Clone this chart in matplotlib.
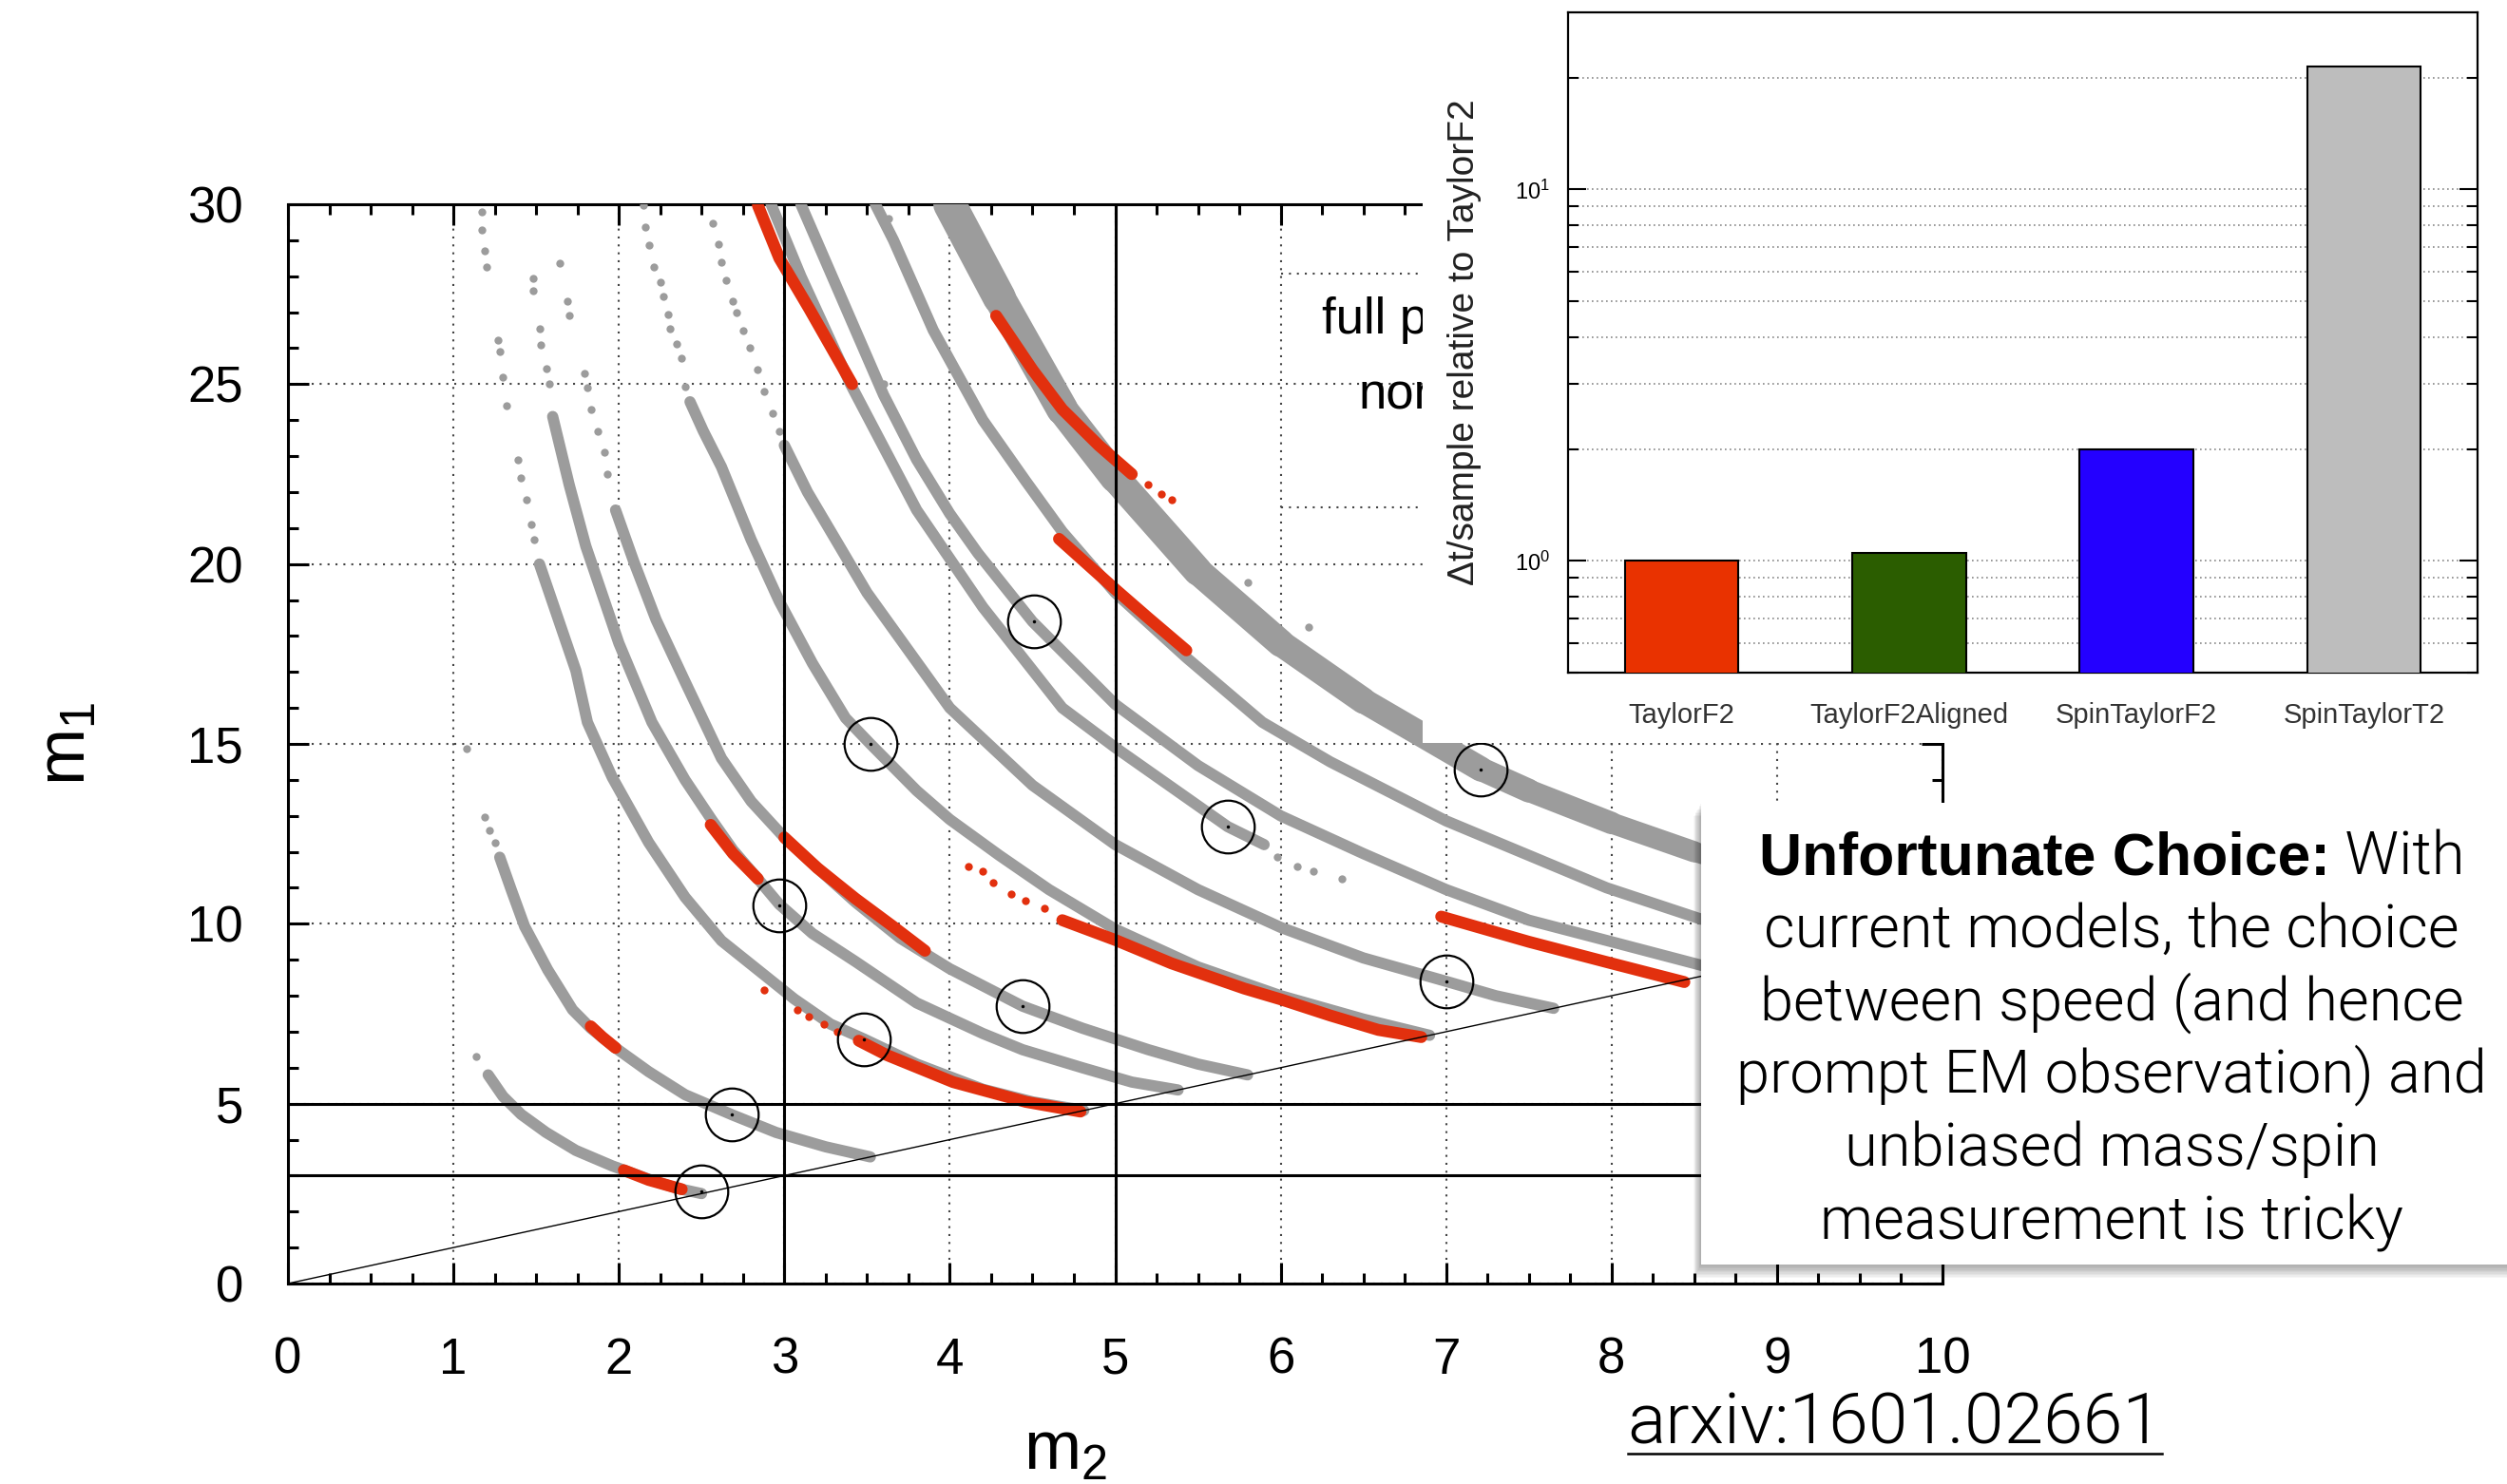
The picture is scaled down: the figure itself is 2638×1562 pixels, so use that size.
import numpy as np
import matplotlib
matplotlib.use('Agg')
import matplotlib.pyplot as plt
from matplotlib.patches import Rectangle
from matplotlib.lines import Line2D
from matplotlib.collections import LineCollection
from matplotlib.ticker import MultipleLocator, FixedLocator, NullFormatter, LogFormatterSciNotation

plt.rcParams['font.family'] = ['Liberation Sans', 'DejaVu Sans']

W, H = 2638, 1562

GRAY = '#9c9c9c'
RED = '#e2300e'

# injected systems (circles): m2, m1
inj_m2 = [2.50, 2.68, 2.97, 3.48, 3.52, 4.44, 4.51, 5.68, 7.00, 7.21]
inj_m1 = [2.55, 4.70, 10.5, 6.80, 15.0, 7.70, 18.4, 12.7, 8.40, 14.3]

# gray posterior bands (full precessing), (m2, m1)
band_a = [(1.21, 5.8), (1.30, 5.2), (1.41, 4.7), (1.56, 4.2), (1.74, 3.7), (1.96, 3.27),
          (2.18, 2.9), (2.35, 2.65), (2.50, 2.50)]
band_b = [(1.28, 11.85), (1.35, 10.94), (1.43, 9.93), (1.57, 8.72), (1.72, 7.61), (1.83, 7.1),
          (1.98, 6.55), (2.18, 5.89), (2.40, 5.25), (2.69, 4.68), (2.95, 4.2), (3.25, 3.8), (3.52, 3.52)]
band_h = [(1.52, 20.0), (1.65, 18.25), (1.74, 17.04), (1.81, 15.6), (1.96, 14.07), (2.18, 12.26),
          (2.40, 10.74), (2.62, 9.53), (2.84, 8.72), (3.06, 7.91), (3.28, 7.21), (3.48, 6.8),
          (3.8, 6.1), (4.2, 5.4), (4.5, 5.05), (4.81, 4.81)]
band_c = [(1.60, 24.1), (1.70, 22.2), (1.80, 20.5), (2.0, 17.8), (2.2, 15.6), (2.40, 14.0),
          (2.56, 12.9), (2.69, 12.05), (2.84, 11.25), (2.97, 10.54), (3.17, 9.73), (3.43, 8.95),
          (3.8, 7.8), (4.2, 6.95), (4.44, 6.5), (4.8, 6.0), (5.1, 5.6), (5.38, 5.38)]
band_d = [(1.98, 21.5), (2.09, 20.07), (2.225, 18.45), (2.40, 16.73), (2.62, 14.6), (2.8, 13.4),
          (3.0, 12.4), (3.2, 11.55), (3.43, 10.6), (3.7, 9.6), (4.0, 8.75), (4.44, 7.71),
          (4.8, 7.1), (5.2, 6.5), (5.5, 6.1), (5.8, 5.8)]
band_e = [(2.43, 24.51), (2.51, 23.7), (2.62, 22.7), (2.80, 20.67), (2.97, 18.96), (3.17, 17.24),
          (3.37, 15.72), (3.52, 15.0), (3.8, 13.7), (4.0, 12.9), (4.3, 11.9), (4.6, 10.95),
          (5.0, 9.85), (5.5, 8.8), (6.0, 8.0), (6.5, 7.35), (6.9, 6.9)]
band_f = [(3.0, 23.3), (3.14, 22.0), (3.5, 19.2), (4.0, 16.0), (4.5, 13.85), (5.0, 12.2),
          (5.5, 10.95), (6.0, 9.9), (6.5, 9.05), (7.0, 8.4), (7.3, 8.0), (7.65, 7.65)]
band_g = [(3.1, 30.0), (3.43, 26.5), (3.6, 24.7), (3.8, 22.9), (4.0, 21.4), (4.17, 20.3),
          (4.5, 18.4), (5.0, 16.1), (5.5, 14.4), (6.0, 13.0), (6.5, 11.95), (7.0, 10.95),
          (7.5, 10.1), (8.0, 9.5), (8.68, 8.68)]
band_k = [(2.92, 30.0), (3.1, 28.0), (3.4, 25.0), (3.8, 21.5), (4.2, 18.8), (4.68, 16.0),
          (5.0, 14.9), (5.68, 12.7), (5.9, 12.2)]
band_m = [(3.55, 30.0), (3.66, 29.0), (3.9, 26.5), (4.2, 24.0), (4.46, 22.3), (4.68, 20.9),
          (5.0, 19.2), (5.43, 17.4), (5.89, 15.6), (6.3, 14.5), (7.0, 12.86), (7.97, 11.0),
          (8.54, 10.13), (9.0, 9.7), (9.36, 9.36)]
band_wide = [(4.0, 30.0), (4.3, 27.4), (4.68, 24.3), (5.0, 22.4), (5.5, 19.8), (6.0, 17.8),
             (6.5, 16.2), (7.21, 14.3), (7.5, 13.7), (8.0, 12.8), (8.5, 12.0), (9.0, 11.3), (10.0, 10.1)]

# sparse gray samples
dots_gray = [(1.14, 6.3), (1.19, 12.96), (1.22, 12.6), (1.25, 12.26),
             (1.17, 29.8), (1.17, 29.3), (1.19, 28.7), (1.20, 28.25), (1.27, 26.23), (1.28, 25.9),
             (1.30, 25.2), (1.32, 24.41), (1.39, 22.9), (1.41, 22.4), (1.44, 21.8), (1.47, 21.1), (1.49, 20.67),
             (1.48, 27.95), (1.48, 27.6), (1.52, 26.53), (1.53, 26.1), (1.565, 25.42), (1.58, 25.0),
             (1.64, 28.35), (1.69, 27.3), (1.70, 26.9), (1.79, 25.3), (1.81, 24.9), (1.83, 24.3),
             (1.87, 23.7), (1.91, 23.1), (1.93, 22.5),
             (2.148, 29.97), (2.16, 29.36), (2.18, 28.86), (2.21, 28.25), (2.25, 27.84), (2.27, 27.44),
             (2.30, 26.94), (2.31, 26.53), (2.35, 26.13), (2.38, 25.72), (2.40, 24.92),
             (2.565, 29.46), (2.60, 28.9), (2.62, 28.4), (2.65, 27.9), (2.69, 27.3), (2.71, 27.0),
             (2.75, 26.5), (2.79, 26.0), (2.84, 25.4), (2.88, 24.8), (2.93, 24.2), (2.97, 23.7),
             (5.98, 11.85), (6.1, 11.6), (6.2, 11.45), (6.37, 11.25),
             (1.08, 14.88), (3.33, 27.5), (3.48, 25.9), (3.54, 25.4), (3.60, 25.0), (3.63, 29.6),
             (5.80, 19.5), (6.17, 18.25)]

# red posterior segments (non-precessing)
red_a = [(2.03, 3.15), (2.18, 2.88), (2.38, 2.62)]
red_b = [(1.83, 7.15), (1.90, 6.85), (1.98, 6.55)]
red_c = [(2.555, 12.75), (2.69, 11.95), (2.84, 11.25)]
red_h = [(3.45, 6.75), (3.62, 6.35), (4.02, 5.6), (4.46, 5.05), (4.79, 4.78)]
red_d = [(3.0, 12.4), (3.2, 11.55), (3.43, 10.7), (3.65, 9.95), (3.85, 9.25)]
red_e = [(4.68, 10.1), (5.0, 9.55), (5.34, 8.9), (5.78, 8.2), (6.0, 7.9), (6.3, 7.45),
         (6.59, 7.05), (6.85, 6.85)]
red_k = [(6.97, 10.2), (7.5, 9.5), (8.0, 8.9), (8.44, 8.38)]
red_g = [(2.84, 29.97), (2.97, 28.5), (3.15, 27.1), (3.41, 25.0)]
red_w = [(4.28, 26.9), (4.5, 25.4), (4.68, 24.3), (4.9, 23.3), (5.1, 22.5)]
red_m = [(4.66, 20.7), (5.0, 19.3), (5.2, 18.5), (5.43, 17.6)]
dots_red = [(2.88, 8.17), (3.08, 7.61), (3.15, 7.41), (3.24, 7.21), (3.32, 7.0),
            (4.11, 11.6), (4.2, 11.45), (4.26, 11.15), (4.37, 10.84), (4.46, 10.64), (4.57, 10.44),
            (5.2, 22.2), (5.28, 21.95), (5.34, 21.8)]

# inset bar chart
models = ['TaylorF2', 'TaylorF2Aligned', 'SpinTaylorF2', 'SpinTaylorT2']
cost = [1.0, 1.05, 2.0, 21.5]
bar_colors = ['#e93200', '#2b5d00', '#2400ff', '#bdbdbd']

note_bold = 'Unfortunate Choice:'
note_lines = [' With', 'current models, the choice', 'between speed (and hence',
              'prompt EM observation) and', 'unbiased mass/spin', 'measurement is tricky']
ref_text = 'arxiv:1601.02661'


fig = plt.figure(figsize=(W / 100, H / 100), dpi=100)

ax = fig.add_axes([303 / W, 1 - 1351 / H, 1741 / W, 1136 / H], zorder=1)


def draw_band(pts, color, lw):
    x, y = zip(*pts)
    ax.plot(x, y, color=color, lw=lw, solid_capstyle='round', solid_joinstyle='round', zorder=3)


for pts in [band_a, band_b, band_h, band_c, band_d, band_e, band_f, band_g, band_k, band_m]:
    draw_band(pts, GRAY, 8.5)

wp = np.array(band_wide)
segs = np.stack([wp[:-1], wp[1:]], axis=1)
lc = LineCollection(segs, colors=GRAY, linewidths=np.linspace(25, 14, len(segs)),
                    capstyle='round', joinstyle='round', zorder=3)
ax.add_collection(lc)

gx, gy = zip(*dots_gray)
ax.plot(gx, gy, 'o', color=GRAY, ms=6, mew=0, zorder=3)

for pts in [red_a, red_b, red_c, red_h, red_d, red_e, red_k, red_g, red_w, red_m]:
    draw_band(pts, RED, 9)
rx, ry = zip(*dots_red)
ax.plot(rx, ry, 'o', color=RED, ms=6, mew=0, zorder=3)

# mass cut lines and equal-mass diagonal
for v in [3, 5]:
    ax.axhline(v, color='k', lw=2.2, zorder=5)
    ax.axvline(v, color='k', lw=2.2, zorder=5)
ax.plot([0, 10], [0, 10], color='k', lw=1.0, zorder=5)

ax.plot(inj_m2, inj_m1, 'o', mfc='none', mec='k', ms=40, mew=1.6, zorder=6)
ax.plot(inj_m2, inj_m1, 'o', color='k', ms=2.5, mew=0, zorder=6)

# legend frame (mostly hidden by the inset)
ax.plot([6, 8], [28.07, 28.07], color='#444444', lw=1.5, ls=(0, (1, 3)), zorder=2)
ax.plot([6, 8], [21.58, 21.58], color='#444444', lw=1.5, ls=(0, (1, 3)), zorder=2)
ax.text(6.25, 26.4, 'full p', fontsize=38, va='baseline', ha='left')
ax.text(6.47, 24.3, 'non', fontsize=38, va='baseline', ha='left')

ax.set_xlim(0, 10)
ax.set_ylim(0, 30)
ax.xaxis.set_major_locator(MultipleLocator(1))
ax.xaxis.set_minor_locator(MultipleLocator(0.25))
ax.yaxis.set_major_locator(MultipleLocator(5))
ax.yaxis.set_minor_locator(MultipleLocator(1))
ax.tick_params(which='both', direction='in', top=True, right=True, width=2.2)
ax.tick_params(which='major', length=16, labelsize=38)
ax.tick_params(which='minor', length=8)
ax.tick_params(axis='x', pad=40)
ax.tick_params(axis='y', pad=34)
ax.grid(True, which='major', color='#444444', lw=1.5, ls=(0, (1, 3)))
ax.set_axisbelow(True)
for s in ax.spines.values():
    s.set_linewidth(2.2)

ax.set_xlabel(r'$\mathregular{m_2}$', fontsize=52)
ax.xaxis.label.set_va('baseline')
ax.xaxis.set_label_coords(0.47, -0.1725)
ax.set_ylabel(r'$\mathregular{m_1}$', fontsize=52)
ax.yaxis.label.set_va('center')
ax.yaxis.set_label_coords(-0.133, 0.5)

# white backing of the pasted inset
fig.add_artist(Rectangle((1497 / W, 1 - 782 / H), 1 - 1497 / W, 782 / H, transform=fig.transFigure,
                         fc='white', ec='none', zorder=2))

axin = fig.add_axes([1650 / W, 1 - 708 / H, 957 / W, 695 / H], zorder=3)
axin.bar(range(len(models)), cost, width=0.5, color=bar_colors, edgecolor='k', lw=1.5, zorder=3)
axin.set_yscale('log')
axin.set_ylim(0.5, 30)
axin.set_xlim(-0.5, 3.5)
axin.yaxis.set_major_locator(FixedLocator([1, 10]))
axin.yaxis.set_major_formatter(LogFormatterSciNotation())
axin.yaxis.set_minor_locator(FixedLocator([0.5, 0.6, 0.7, 0.8, 0.9, 2, 3, 4, 5, 6, 7, 8, 9, 20]))
axin.yaxis.set_minor_formatter(NullFormatter())
axin.tick_params(axis='y', which='both', direction='in', left=True, right=True, width=1.5,
                 labelsize=17, pad=14)
axin.tick_params(axis='y', which='major', length=14)
axin.tick_params(axis='y', which='minor', length=8)
axin.set_xticks(range(len(models)))
axin.set_xticklabels(models, color='#333333')
axin.tick_params(axis='x', length=0, labelsize=21, pad=22)
axin.yaxis.grid(True, which='both', color='#888888', lw=1.2, ls=(0, (1, 2)))
axin.set_axisbelow(True)
for s in axin.spines.values():
    s.set_linewidth(1.6)
axin.set_ylabel('Δt/sample relative to TaylorF2', fontsize=28, color='#222222')
axin.yaxis.label.set_va('center')
axin.yaxis.set_label_coords(-0.114, 0.5)

# call-out box with soft shadow
bx0, by0, bx1, by1 = 1790, 845, 2660, 1331
for k in range(1, 11):
    fig.add_artist(Rectangle(((bx0 - 0.8 * k) / W, 1 - (by1 + 1.4 * k) / H), (bx1 - bx0) / W,
                             (by1 - by0) / H, transform=fig.transFigure, fc='k', ec='none',
                             alpha=0.035, zorder=4))
fig.add_artist(Rectangle((bx0 / W, 1 - by1 / H), (bx1 - bx0) / W, (by1 - by0) / H,
                         transform=fig.transFigure, fc='white', ec='none', zorder=4))

light = ['Roboto', 'DejaVu Sans']
xc = 2222
baselines = [920, 997, 1074, 1150, 1227, 1304]
tb = fig.text(0, 1 - baselines[0] / H, note_bold, fontsize=45, weight='bold', va='baseline', zorder=5)
tr = fig.text(0, 1 - baselines[0] / H, note_lines[0], fontsize=45.5, family=light, weight=300,
              va='baseline', zorder=5)
for line, yb in zip(note_lines[1:], baselines[1:]):
    fig.text(xc / W, 1 - yb / H, line, fontsize=45.5, family=light, weight=300,
             ha='center', va='baseline', zorder=5)

ta = fig.text(1994 / W, 1 - 1520 / H, ref_text, fontsize=54, family=light, weight=300,
              ha='center', va='baseline', zorder=5)

fig.canvas.draw()
r = fig.canvas.get_renderer()
w1 = tb.get_window_extent(r).width
w2 = tr.get_window_extent(r).width
x0 = xc - (w1 + w2) / 2
tb.set_x(x0 / W)
tr.set_x((x0 + w1) / W)
bb = ta.get_window_extent(r)
fig.add_artist(Line2D([bb.x0 / W, bb.x1 / W], [1 - 1530 / H, 1 - 1530 / H], transform=fig.transFigure,
                      color='k', lw=1.8, zorder=5))

fig.savefig('out.png', dpi=100)
